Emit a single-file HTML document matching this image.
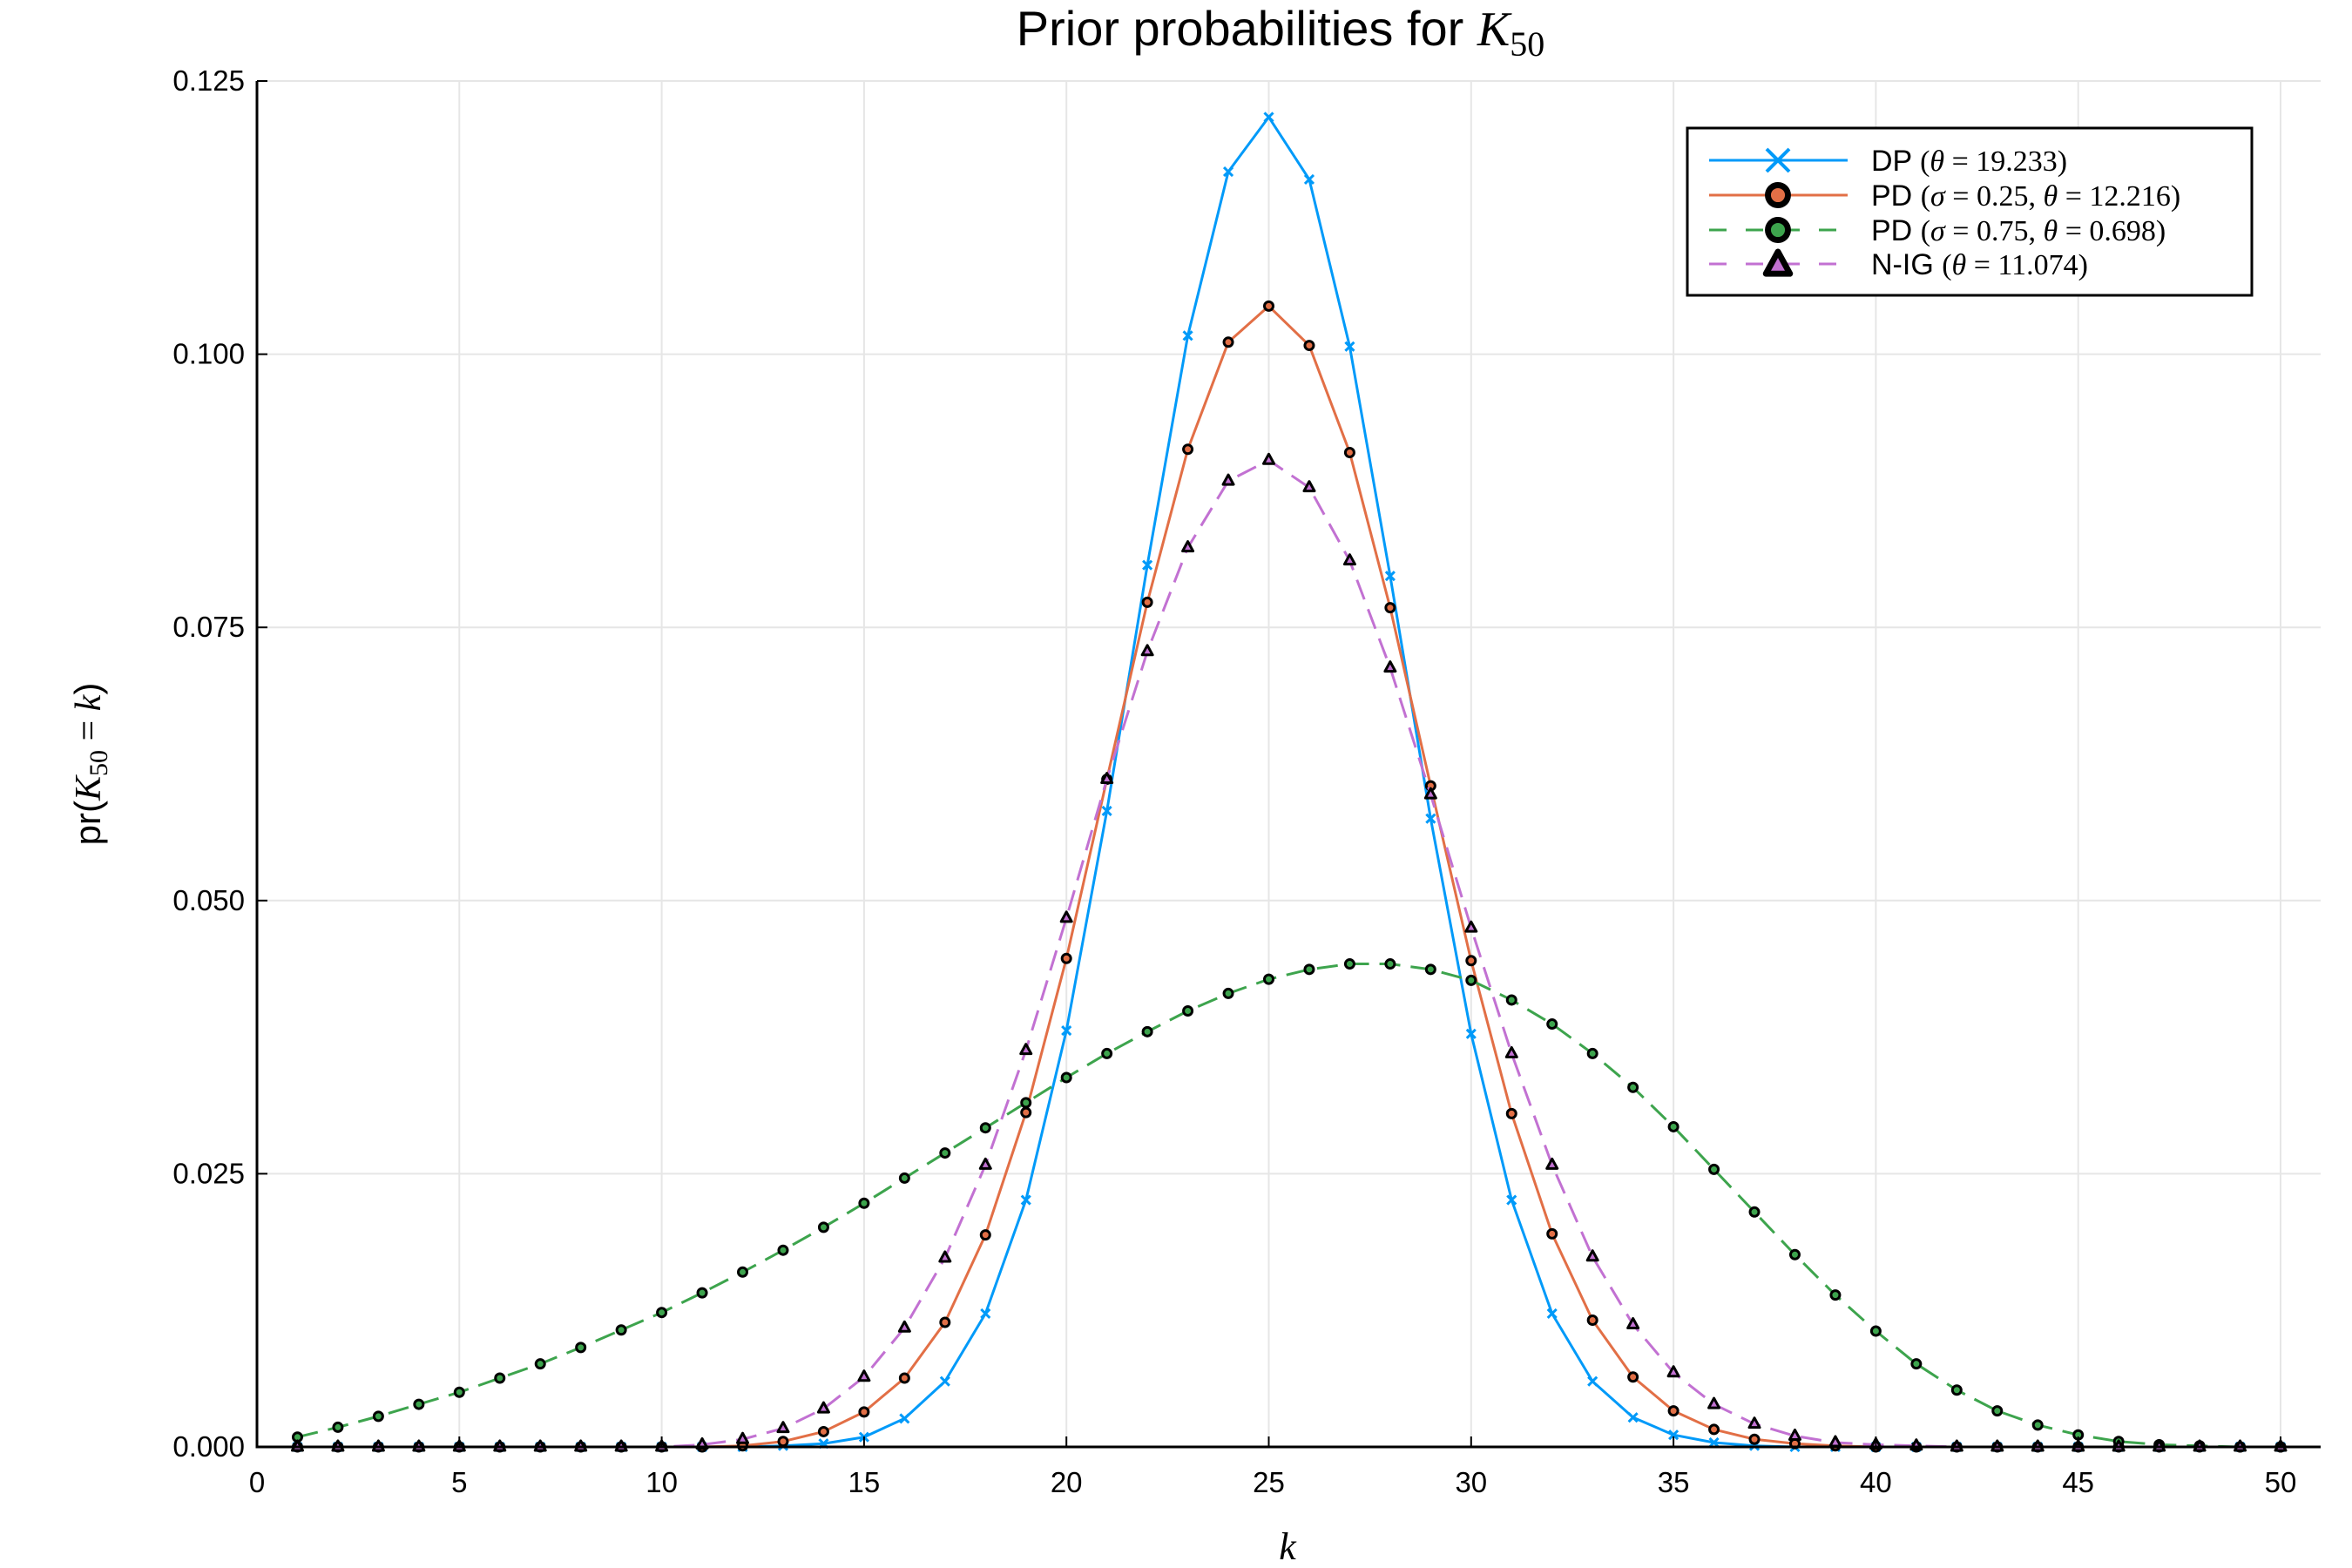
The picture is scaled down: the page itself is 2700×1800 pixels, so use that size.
<!DOCTYPE html>
<html><head><meta charset="utf-8"><style>
html,body{margin:0;padding:0;background:#fff}
svg{display:block}
text{font-family:"Liberation Sans",sans-serif}
.m{font-family:"Liberation Serif",serif}
</style></head><body>
<svg id="chart" width="2700" height="1800" viewBox="0 0 2700 1800" xmlns="http://www.w3.org/2000/svg">
<rect width="2700" height="1800" fill="#fff"/>
<g id="grid"></g>
<g id="series"></g>
<g id="axes"></g>
<text x="1470" y="52" font-size="56" text-anchor="middle">Prior probabilities for <tspan class="m" font-style="italic">K</tspan><tspan class="m" font-size="40" dy="12">50</tspan></text>
<text class="m" x="1478" y="1790" font-size="44" font-style="italic" text-anchor="middle">k</text>
<text transform="translate(115,877) rotate(-90)" font-size="42" text-anchor="middle">pr(<tspan class="m" font-style="italic">K</tspan><tspan class="m" font-size="30" dy="8">50</tspan><tspan class="m" dy="-8"> = </tspan><tspan class="m" font-style="italic">k</tspan>)</text>
<g id="legend"></g>
</svg>
<script>
const xTicks=[0,5,10,15,20,25,30,35,40,45,50];
const yTicks=[0,0.025,0.05,0.075,0.1,0.125];
const yTickLabels=["0.000","0.025","0.050","0.075","0.100","0.125"];
const ks=[];for(let k=1;k<=50;k++)ks.push(k);
const dp=[0,0,0,0,0,0,0,0,0,0,0,0,0.0001,0.0003,0.0009,0.0026,0.0060,0.0122,0.0226,0.0381,0.0582,0.0807,0.1017,0.1167,0.1217,0.1160,0.1007,0.0797,0.0575,0.0378,0.0226,0.0122,0.0060,0.0027,0.0011,0.0004,0.0001,0,0,0,0,0,0,0,0,0,0,0,0,0];
const pd25=[0,0,0,0,0,0,0,0,0,0,0,0.0001,0.0005,0.0014,0.0032,0.0063,0.0114,0.0194,0.0306,0.0447,0.0611,0.0773,0.0913,0.1011,0.1044,0.1008,0.0910,0.0768,0.0605,0.0445,0.0305,0.0195,0.0116,0.0064,0.0033,0.0016,0.0007,0.0003,0.0001,0,0,0,0,0,0,0,0,0,0,0];
const pd75=[0.0009,0.0018,0.0028,0.0039,0.0050,0.0063,0.0076,0.0091,0.0107,0.0123,0.0141,0.0160,0.0180,0.0201,0.0223,0.0246,0.0269,0.0292,0.0315,0.0338,0.0360,0.0380,0.0399,0.0415,0.0428,0.0437,0.0442,0.0442,0.0437,0.0427,0.0409,0.0387,0.0360,0.0329,0.0293,0.0254,0.0215,0.0176,0.0139,0.0106,0.0076,0.0052,0.0033,0.0020,0.0011,0.0005,0.0002,0.0001,0,0];
const nig=[0,0,0,0,0,0,0,0,0,0,0.0002,0.0007,0.0017,0.0035,0.0064,0.0109,0.0173,0.0258,0.0363,0.0484,0.0611,0.0728,0.0823,0.0884,0.0903,0.0878,0.0811,0.0713,0.0597,0.0475,0.0360,0.0258,0.0174,0.0112,0.0068,0.0039,0.0021,0.0010,0.0004,0.0002,0.0001,0,0,0,0,0,0,0,0,0];
const legendLabels=[
 'DP <tspan class="m">(<tspan font-style="italic">θ</tspan> = 19.233)</tspan>',
 'PD <tspan class="m">(<tspan font-style="italic">σ</tspan> = 0.25, <tspan font-style="italic">θ</tspan> = 12.216)</tspan>',
 'PD <tspan class="m">(<tspan font-style="italic">σ</tspan> = 0.75, <tspan font-style="italic">θ</tspan> = 0.698)</tspan>',
 'N-IG <tspan class="m">(<tspan font-style="italic">θ</tspan> = 11.074)</tspan>'];
const NS="http://www.w3.org/2000/svg";
const L=295,R=2664,T=93,B=1661;
const X=v=>L+(v/50)*(2618-L);
const Y=v=>B-(v/0.125)*(B-T);
function mk(tag,attrs,parent){const e=document.createElementNS(NS,tag);for(const k in attrs)e.setAttribute(k,attrs[k]);parent.appendChild(e);return e;}
const grid=document.getElementById('grid'),axes=document.getElementById('axes'),series=document.getElementById('series'),leg=document.getElementById('legend');
xTicks.forEach(t=>{
 const g=mk('line',{x1:X(t),x2:X(t),y1:T,y2:B,stroke:'#e6e6e6','stroke-width':2},grid);
 
 
 const tk=mk('line',{x1:X(t),x2:X(t),y1:B,y2:B-12,stroke:'#000','stroke-width':2},axes);
 
 
 const tx=mk('text',{x:X(t),y:B+52,'font-size':33,'text-anchor':'middle'},axes);tx.textContent=t;
 
 
});
yTicks.forEach((t,i)=>{
 const g=mk('line',{x1:L,x2:R,y1:Y(t),y2:Y(t),stroke:'#e6e6e6','stroke-width':2},grid);
 
 
 const tk=mk('line',{x1:L,x2:L+12,y1:Y(t),y2:Y(t),stroke:'#000','stroke-width':2},axes);
 
 
 const tx=mk('text',{x:L-14,y:Y(t)+11,'font-size':33,'text-anchor':'end'},axes);tx.textContent=yTickLabels[i];
 
 
});
const ax=mk('path',{d:`M${L},${T} L${L},${B} L${R},${B}`,fill:'none',stroke:'#000','stroke-width':3},axes);


function marker(type,x,y,color,parent,s){
 let e;
 if(type==='x'){e=mk('path',{d:`M${x-5*s},${y-5*s}L${x+5*s},${y+5*s}M${x-5*s},${y+5*s}L${x+5*s},${y-5*s}`,stroke:color,'stroke-width':s>1?4:3,fill:'none'},parent);}
 else if(type==='o'){e=mk('circle',{cx:x,cy:y,r:5*s,fill:color,stroke:'#000','stroke-width':3*s},parent);}
 else {e=mk('path',{d:`M${x},${y-7*s}L${x+6*s},${y+4*s}L${x-6*s},${y+4*s}Z`,fill:color,stroke:'#000','stroke-width':3*s,'stroke-linejoin':'round'},parent);}
 return e;
}
const defs=[
 {name:'dp',vals:dp,color:'#009af9',dash:null,m:'x'},
 {name:'pd-025',vals:pd25,color:'#e26f46',dash:null,m:'o'},
 {name:'pd-075',vals:pd75,color:'#3da44d',dash:'24,12',m:'o'},
 {name:'nig',vals:nig,color:'#c271d2',dash:'24,12',m:'t'}];
defs.forEach(d=>{
 const g=mk('g',{},series);
 
 
 const pts=ks.map((k,i)=>X(k)+','+Y(d.vals[i])).join(' ');
 const pl=mk('polyline',{points:pts,fill:'none',stroke:d.color,'stroke-width':3,'stroke-linejoin':'round'},g);
 if(d.dash)pl.setAttribute('stroke-dasharray',d.dash);
 
 
 ks.forEach((k,i)=>{
  const e=marker(d.m,X(k),Y(d.vals[i]),d.color,g,1);
  
  
 });
});
const box=mk('rect',{x:1937,y:147,width:648,height:192,fill:'#fff',stroke:'#000','stroke-width':3},leg);


const rows=[184,224,264,303];
defs.forEach((d,i)=>{
 const g=mk('g',{},leg);
 
 
 const ln=mk('line',{x1:1962,x2:2121,y1:rows[i],y2:rows[i],stroke:d.color,'stroke-width':3},g);
 if(d.dash)ln.setAttribute('stroke-dasharray','20,22');
 marker(d.m,2041,rows[i]-(d.m==='t'?-2:0),d.color,g,d.m==='x'?2.6:2.3);
 const t=mk('text',{x:2148,y:rows[i]+12,'font-size':34},g);
 t.innerHTML=legendLabels[i];
});
</script>
</body></html>
